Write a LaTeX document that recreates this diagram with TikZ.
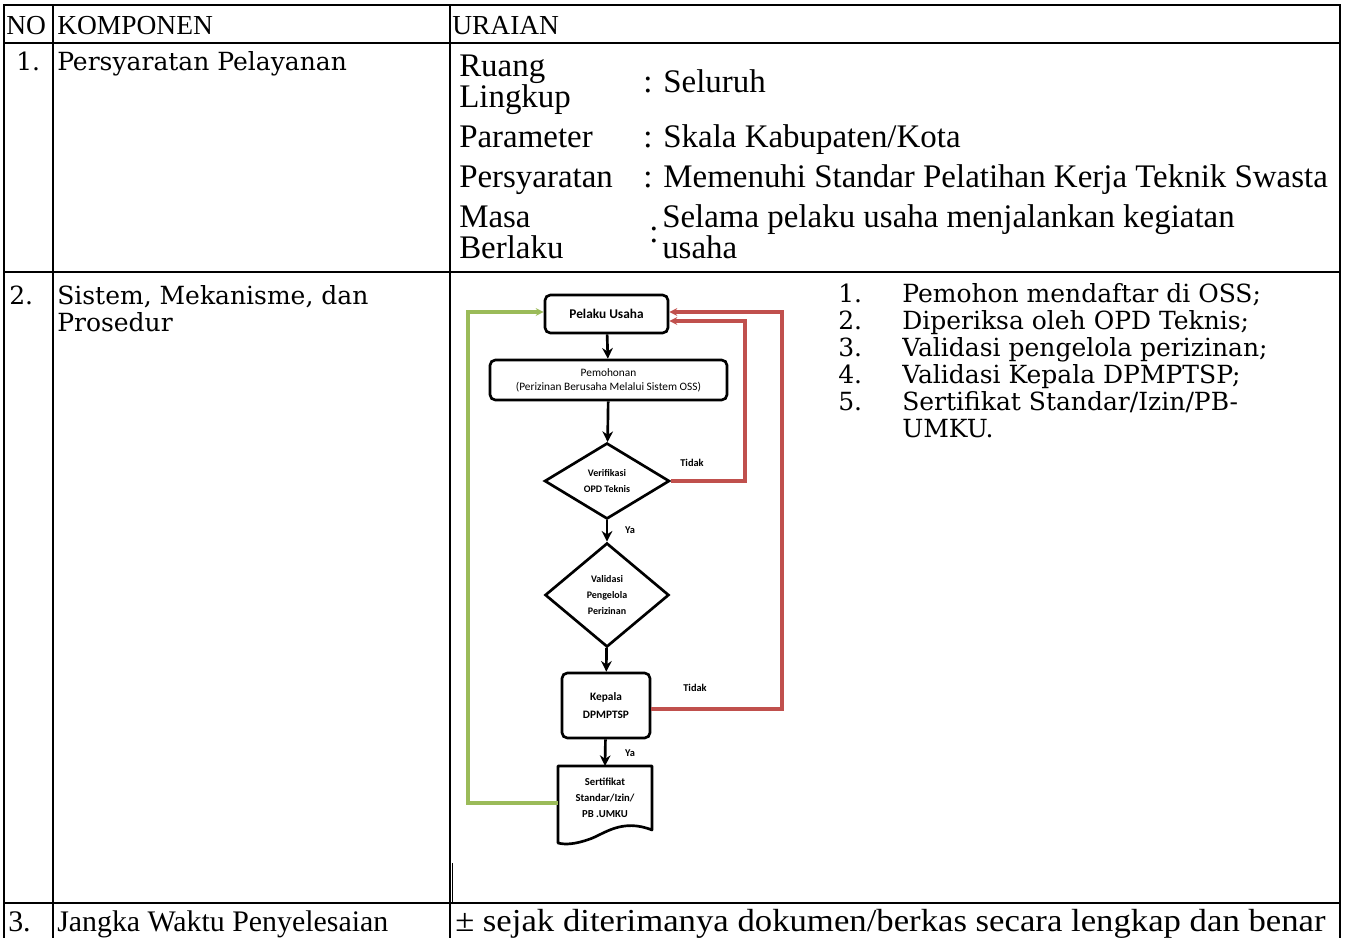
\documentclass[tikz,border=0pt]{standalone}
\usepackage{fontspec}
\setmainfont{DejaVu Serif}
\newfontfamily\headfont{Liberation Serif}
\newfontfamily\narrowfont{Liberation Serif}
\newfontfamily\widefont{Liberation Serif}[FakeStretch=1.085]
\newfontfamily\chartfont{Carlito}
\usetikzlibrary{shapes.geometric,arrows.meta,calc}

\definecolor{loopgreen}{HTML}{9BBB59}
\definecolor{loopred}{HTML}{C0504D}

\tikzset{
  grid/.style={line width=1.5pt},
  headtxt/.style={anchor=base west, inner sep=0, font=\headfont\fontsize{20.6pt}{22pt}\selectfont},
  bodytxt/.style={anchor=base west, inner sep=0, font=\fontsize{18.75pt}{20pt}\selectfont},
  narrowtxt/.style={anchor=base west, inner sep=0, font=\narrowfont\fontsize{24.7pt}{26pt}\selectfont},
  procbox/.style={draw, rounded corners=4pt, line width=2pt, align=center, inner sep=1pt},
  decision/.style={draw, diamond, line width=2pt, inner sep=0pt, align=center,
    font=\chartfont\bfseries\fontsize{7.5pt}{12pt}\selectfont},
  flow/.style={line width=2pt, -{Stealth[length=8pt,width=8pt]}},
  loopg/.style={draw=loopgreen, line width=2.4pt, -{Stealth[length=6pt,width=6pt]}},
  loopr/.style={draw=loopred, line width=2.4pt, -{Stealth[length=6pt,width=6pt]}},
  lbl/.style={inner sep=0pt, font=\chartfont\bfseries\fontsize{7.8pt}{9pt}\selectfont},
}

\begin{document}
\begin{tikzpicture}[x=0.75pt,y=-0.75pt]
\useasboundingbox (0,0) rectangle (1346,938);

% ---- table rules ----
\draw[grid] (3,5) -- (1341,5);
\draw[grid] (3,43) -- (1341,43);
\draw[grid] (3,272) -- (1341,272);
\draw[grid] (3,903) -- (1341,903);
\draw[grid] (4,5) -- (4,940);
\draw[grid] (53,5) -- (53,940);
\draw[grid] (450,5) -- (450,940);
\draw[grid] (1340,5) -- (1340,940);
\draw[line width=0.6pt] (452,863) -- (452,903);

% ---- header ----
\node[headtxt] (hno) at (6,35) {NO};
\node[headtxt] (hkomp) at (57,35) {KOMPONEN};
\node[headtxt] (hur) at (452,35) {URAIAN};

% ---- row 1 ----
\node[bodytxt] (r1no) at (16,71) {1.};
\node[bodytxt] (r1k) at (57,71) {Persyaratan Pelayanan};

\node[narrowtxt] (rl1) at (459,77) {Ruang};
\node[narrowtxt] (rl2) at (459,108) {Lingkup};
\node[narrowtxt] (rv) at (643,93) {: Seluruh};
\node[narrowtxt] (pl) at (459,148) {Parameter};
\node[narrowtxt] (pv) at (643,148) {: Skala Kabupaten/Kota};
\node[narrowtxt] (sl) at (459,188) {Persyaratan};
\node[narrowtxt] (sv) at (643,188) {: Memenuhi Standar Pelatihan Kerja Teknik Swasta};
\node[narrowtxt] (ml1) at (459,228) {Masa};
\node[narrowtxt] (ml2) at (459,258) {Berlaku};
\node[narrowtxt] (mc) at (649,243) {:};
\node[narrowtxt] (mv1) at (662,228) {Selama pelaku usaha menjalankan kegiatan};
\node[narrowtxt] (mv2) at (662,258) {usaha};

% ---- row 2 ----
\node[bodytxt] (r2no) at (9,304) {2.};
\node[bodytxt] (r2k1) at (57,304) {Sistem, Mekanisme, dan};
\node[bodytxt] (r2k2) at (57,331) {Prosedur};

\node[bodytxt] (n1) at (838,302) {1.};
\node[bodytxt] (t1) at (902,302) {Pemohon mendaftar di OSS;};
\node[bodytxt] (n2) at (838,329) {2.};
\node[bodytxt] (t2) at (902,329) {Diperiksa oleh OPD Teknis;};
\node[bodytxt] (n3) at (838,356) {3.};
\node[bodytxt] (t3) at (902,356) {Validasi pengelola perizinan;};
\node[bodytxt] (n4) at (838,383) {4.};
\node[bodytxt] (t4) at (902,383) {Validasi Kepala DPMPTSP;};
\node[bodytxt] (n5) at (838,410) {5.};
\node[bodytxt] (t5) at (902,410) {Sertifikat Standar/Izin/PB-};
\node[bodytxt] (t6) at (902,437) {UMKU.};

% ---- flowchart ----
\node[procbox, minimum width=92.25pt, minimum height=28.5pt,
  font=\chartfont\bfseries\fontsize{10pt}{11pt}\selectfont] (pu) at (606.5,314) {Pelaku Usaha};
\node[procbox, minimum width=177.75pt, minimum height=30pt,
  font=\chartfont\fontsize{8.5pt}{10.5pt}\selectfont] (pm) at (608.5,380)
  {Pemohonan\\(Perizinan Berusaha Melalui Sistem OSS)};
\node[decision, minimum width=93.75pt, minimum height=57pt] (d1) at (607,481)
  {Verifikasi\\OPD Teknis};
\node[decision, minimum width=93pt, minimum height=78pt] (d2) at (607,595)
  {Validasi\\Pengelola\\Perizinan};
\node[procbox, minimum width=66pt, minimum height=48.75pt,
  font=\chartfont\bfseries\fontsize{8.5pt}{14pt}\selectfont] (kp) at (606,705.5)
  {Kepala\\DPMPTSP};
\node[inner sep=0pt, minimum width=70.5pt, minimum height=50pt, align=center,
  font=\chartfont\bfseries\fontsize{8pt}{12pt}\selectfont] (sc) at (605,798)
  {Sertifikat\\Standar/Izin/\\PB .UMKU};
% document outline with wavy lower edge
\draw[line width=2pt, line join=round]
  (558,766) -- (652,766) -- (652,830)
  .. controls (622,818) and (604,834) .. (590,839)
  .. controls (576,844) and (566,845) .. (558,843) -- cycle;

\draw[flow] (pu) -- (pm);
\draw[flow] (pm) -- (d1);
\draw[flow] (d1) -- (d2);
\draw[flow] (d2) -- (kp);
\draw[flow] (kp) -- (sc.north |- 0,766);

\node[lbl] (ya1) at (630,530) {Ya};
\node[lbl] (ya2) at (630,753) {Ya};
\node[lbl] (tdk1) at (692,463) {Tidak};
\node[lbl] (tdk2) at (695,688) {Tidak};

% return loops
\coordinate (gtop) at (468,312);
\coordinate (rin) at (745,321);
\coordinate (rout) at (782,312);
\draw[loopg] ([yshift=-3.75pt]sc.west) -| (gtop) -- ([yshift=1.5pt]pu.west);
\draw[loopr] (d1.east) -| (rin) -- ([yshift=-5.25pt]pu.east);
\draw[loopr] ([yshift=-2.6pt]kp.east) -| (rout) -- ([yshift=1.5pt]pu.east);

% ---- row 3 ----
\node[narrowtxt, font=\narrowfont\fontsize{22.4pt}{24pt}\selectfont] (r3no) at (8,931) {3.};
\node[narrowtxt, font=\narrowfont\fontsize{22.4pt}{24pt}\selectfont] (r3k) at (57,931) {Jangka Waktu Penyelesaian};
\node[narrowtxt, font=\widefont\fontsize{24pt}{26pt}\selectfont] (r3v) at (455,931) {± sejak diterimanya dokumen/berkas secara lengkap dan benar};
\end{tikzpicture}
\end{document}
